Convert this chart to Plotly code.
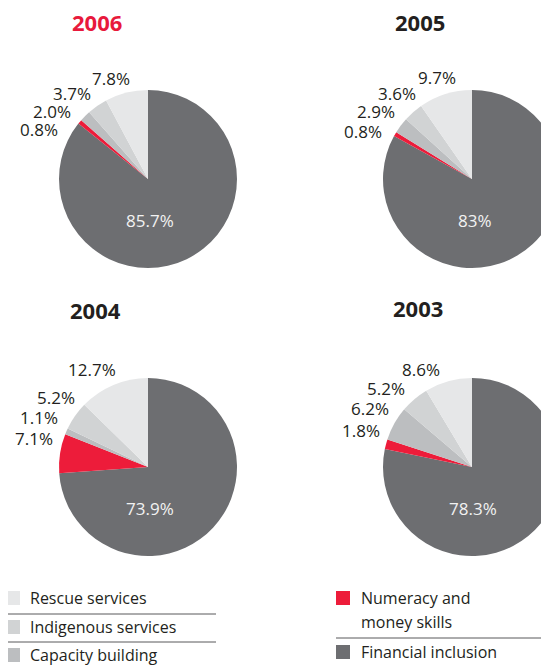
import plotly.graph_objects as go

categories = ["Financial inclusion", "Numeracy and money skills", "Capacity building",
              "Indigenous services", "Rescue services"]
colors = ["#6D6E71", "#ED1C3A", "#BCBEC0", "#D1D3D4", "#E6E7E8"]

years = ["2006", "2005", "2004", "2003"]
values_2006 = [85.7, 0.8, 2.0, 3.7, 7.8]
values_2005 = [83.0, 0.8, 2.9, 3.6, 9.7]
values_2004 = [73.9, 7.1, 1.1, 5.2, 12.7]
values_2003 = [78.3, 1.8, 6.2, 5.2, 8.6]
labels_2006 = ["85.7%", "0.8%", "2.0%", "3.7%", "7.8%"]
labels_2005 = ["83%", "0.8%", "2.9%", "3.6%", "9.7%"]
labels_2004 = ["73.9%", "7.1%", "1.1%", "5.2%", "12.7%"]
labels_2003 = ["78.3%", "1.8%", "6.2%", "5.2%", "8.6%"]
title_colors = ["#E8193C", "#231F20", "#231F20", "#231F20"]

legend_left = ["Rescue services", "Indigenous services", "Capacity building"]
legend_right = [["Numeracy and", "money skills"], ["Financial inclusion"]]
legend_left_keys = ["Rescue services", "Indigenous services", "Capacity building"]
legend_right_keys = ["Numeracy and money skills", "Financial inclusion"]

W, H = 560, 665
OFF = 8  # page body margin
FONT = "Open Sans"
DARK = "#231F20"

# layout: pie centres / radius (screen pixels)
centers = [(148, 179), (472, 179), (148, 467), (472, 467)]
R = 89
# label placement offsets from pie centre (right edge x, middle y), per slice order
inside_off = [(2, 41), (3, 41), (2, 41), (1, 41)]
outside_off = [
    [None, (-88, -49), (-75, -67), (-55, -86), (-16, -101)],
    [None, (-88, -48), (-75, -67), (-54, -86), (-14, -102)],
    [None, (-93, -29), (-88, -50), (-71, -70), (-30, -97)],
    [None, (-90, -37), (-81, -59), (-65, -78), (-30, -97)],
]
title_off = [(-51, -157), (-52, -157), (-53, -157), (-54, -159)]


def px(x):
    return (x - OFF) / W


def py(y):
    return 1 - (y - OFF) / H


all_values = [values_2006, values_2005, values_2004, values_2003]
all_labels = [labels_2006, labels_2005, labels_2004, labels_2003]

fig = go.Figure()
for i, (vals, txt) in enumerate(zip(all_values, all_labels)):
    cx, cy = centers[i]
    fig.add_trace(go.Pie(
        labels=categories, values=vals, text=txt, textinfo="none",
        sort=False, direction="clockwise", rotation=0,
        marker=dict(colors=colors, line=dict(width=0)),
        domain=dict(x=[px(cx - R), px(cx + R)], y=[py(cy + R), py(cy - R)]),
        showlegend=False, hoverinfo="label+text",
    ))
    ox, oy = inside_off[i]
    fig.add_annotation(text=txt[0], x=px(cx + ox), y=py(cy + oy), xref="paper", yref="paper",
                       showarrow=False, xanchor="center", yanchor="middle",
                       font=dict(size=17, color="#F2F2F2", family=FONT))
    for j in range(1, len(txt)):
        ox, oy = outside_off[i][j]
        fig.add_annotation(text=txt[j], x=px(cx + ox), y=py(cy + oy), xref="paper", yref="paper",
                           showarrow=False, xanchor="right", yanchor="middle",
                           font=dict(size=17, color=DARK, family=FONT))
    tx, ty = title_off[i]
    fig.add_annotation(text="<b>%s</b>" % years[i], x=px(cx + tx), y=py(cy + ty),
                       xref="paper", yref="paper", showarrow=False,
                       xanchor="center", yanchor="middle",
                       font=dict(size=22, color=title_colors[i], family=FONT))

cmap = dict(zip(categories, colors))
left_rows = [598, 627, 655]
for name, key, yc in zip(legend_left, legend_left_keys, left_rows):
    fig.add_shape(type="rect", xref="paper", yref="paper", x0=px(6), x1=px(20),
                  y0=py(yc + 7), y1=py(yc - 7), line=dict(width=0), fillcolor=cmap[key])
    fig.add_annotation(text=name, x=px(28), y=py(yc), xref="paper", yref="paper",
                       showarrow=False, xanchor="left", yanchor="middle",
                       font=dict(size=16, color=DARK, family=FONT))
right_rows = [598, 652]
for lines, key, yc in zip(legend_right, legend_right_keys, right_rows):
    fig.add_shape(type="rect", xref="paper", yref="paper", x0=px(336), x1=px(350),
                  y0=py(yc + 7), y1=py(yc - 7), line=dict(width=0), fillcolor=cmap[key])
    for k, line in enumerate(lines):
        fig.add_annotation(text=line, x=px(359), y=py(yc + 24 * k), xref="paper", yref="paper",
                           showarrow=False, xanchor="left", yanchor="middle",
                           font=dict(size=16, color=DARK, family=FONT))

for y in [614, 642]:
    fig.add_shape(type="line", xref="paper", yref="paper", x0=px(4), x1=px(216),
                  y0=py(y), y1=py(y), line=dict(color="#58595B", width=1))
fig.add_shape(type="line", xref="paper", yref="paper", x0=px(336), x1=px(547),
              y0=py(638), y1=py(638), line=dict(color="#58595B", width=1))

fig.update_layout(
    width=W, height=H, margin=dict(l=0, r=0, t=0, b=0),
    paper_bgcolor="white", plot_bgcolor="white",
    font=dict(family=FONT, color=DARK),
    showlegend=False,
)

fig.write_html("out.html")
